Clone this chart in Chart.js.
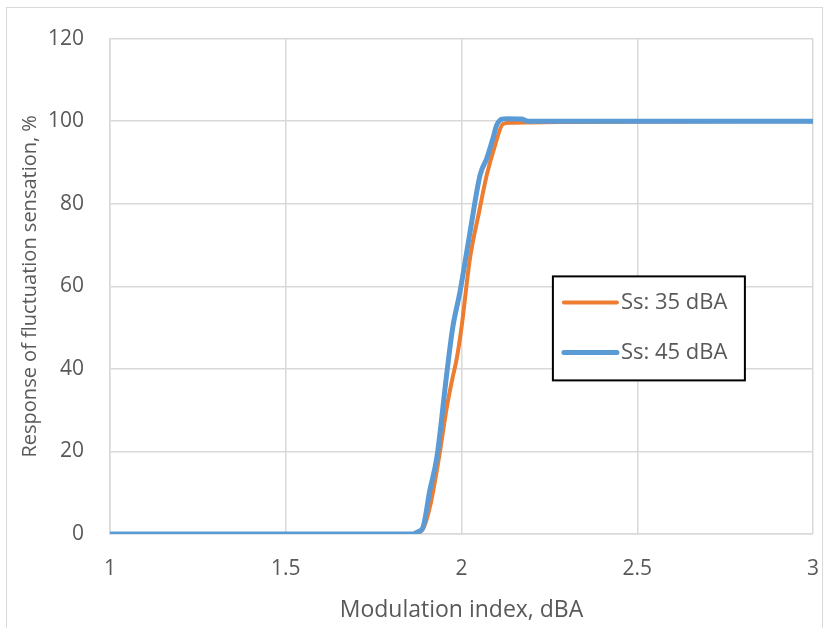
<!DOCTYPE html>
<html>
<head>
<meta charset="utf-8">
<script src="https://cdn.jsdelivr.net/npm/chart.js@4.4.1/dist/chart.umd.min.js"></script>
<style>
  body { margin: 0; background: #fff; }
  #wrap { position: relative; width: 827px; height: 628px; }
  #frame { position: absolute; left: 6px; top: 7px; width: 815px; height: 700px; border: 1px solid #d9d9d9; }
  canvas { position: absolute; left: 0; top: 0; }
</style>
</head>
<body>
<div id="wrap">
  <div id="frame"></div>
  <canvas id="chart" width="827" height="628"></canvas>
</div>
<script>
// Ss: 35 dBA
const x35 = [1, 1.86, 1.89, 1.91, 1.935, 1.958, 1.975, 1.987, 2.0, 2.024, 2.05, 2.072, 2.095, 2.118, 2.14, 2.3, 3];
const y35 = [0, 0, 1.2, 6.5, 18, 30.6, 38, 42.7, 50, 66.7, 78, 87, 94, 99.3, 99.6, 99.8, 100];

// Ss: 45 dBA
const x45 = [1, 1.862, 1.875, 1.89, 1.91, 1.93, 1.958, 1.975, 1.996, 2.024, 2.053, 2.072, 2.09, 2.10, 2.115, 2.13, 2.17, 2.19, 2.2, 2.3, 3];
const y45 = [0, 0, 0.5, 1.5, 10.6, 18.6, 38.8, 50, 58.8, 73, 87, 91, 96, 99, 100.5, 100.6, 100.5, 100, 100, 100, 100];

const seriesLabels = ["Ss: 35 dBA", "Ss: 45 dBA"];
const xTicks = [1, 1.5, 2, 2.5, 3];

const toPoints = (xs, ys) => xs.map((x, i) => ({ x: x, y: ys[i] }));

const FONT = "'Open Sans', 'Noto Sans', sans-serif";
const TEXT = "#595959";
const GRID = "#d9d9d9";

// legend box drawn inside the plot, right of the curves
const boxLegend = {
  id: "boxLegend",
  afterDraw(chart) {
    const ctx = chart.ctx;
    const a = chart.chartArea;
    const left = a.left + (a.right - a.left) * 0.63;
    const top = a.top + (a.bottom - a.top) * 0.48;
    const w = 192, h = 104;
    ctx.save();
    ctx.fillStyle = "#fff";
    ctx.fillRect(left, top, w, h);
    ctx.strokeStyle = "#000";
    ctx.lineWidth = 2;
    ctx.strokeRect(left, top, w, h);
    const items = [chart.data.datasets[1], chart.data.datasets[0]]; // orange then blue
    items.forEach((ds, i) => {
      const y = top + 26 + i * 50;
      ctx.strokeStyle = ds.borderColor;
      ctx.lineWidth = ds.borderWidth;
      ctx.lineCap = "round";
      ctx.beginPath();
      ctx.moveTo(left + 11, y);
      ctx.lineTo(left + 64, y);
      ctx.stroke();
      ctx.fillStyle = TEXT;
      ctx.font = "22px " + FONT;
      ctx.textBaseline = "middle";
      ctx.fillText(ds.label, left + 68, y);
    });
    ctx.restore();
  }
};

new Chart(document.getElementById("chart").getContext("2d"), {
  type: "scatter",
  data: {
    datasets: [
      {
        label: seriesLabels[1],
        data: toPoints(x45, y45),
        showLine: true,
        borderColor: "#5B9BD5",
        backgroundColor: "#5B9BD5",
        borderWidth: 5,
        pointRadius: 0,
        cubicInterpolationMode: "monotone",
        order: 0,
      },
      {
        label: seriesLabels[0],
        data: toPoints(x35, y35),
        showLine: true,
        borderColor: "#ED7D31",
        backgroundColor: "#ED7D31",
        borderWidth: 4,
        pointRadius: 0,
        cubicInterpolationMode: "monotone",
        order: 1,
      },
    ],
  },
  options: {
    responsive: false,
    animation: false,
    layout: { padding: { left: 0, right: 14, top: 36, bottom: 0 } },
    plugins: { legend: { display: false }, tooltip: { enabled: false } },
    scales: {
      x: {
        type: "linear",
        min: 1,
        max: 3,
        afterBuildTicks: (s) => { s.ticks = xTicks.map((v) => ({ value: v })); },
        afterFit: (s) => { s.height = 94; s.paddingRight = 0; s.paddingLeft = 0; },
        grid: { color: GRID, lineWidth: 1.5, drawTicks: false },
        border: { color: GRID, width: 1.5 },
        ticks: { color: TEXT, font: { family: FONT, size: 21 }, padding: 22, maxRotation: 0, callback: (v) => String(v) },
        title: { display: true, text: "Modulation index, dBA", color: TEXT, font: { family: FONT, size: 23 }, padding: { top: 0 } },
      },
      y: {
        min: 0,
        max: 120,
        afterFit: (s) => { s.width = 110; },
        grid: { color: GRID, lineWidth: 1.5, drawTicks: false },
        border: { color: GRID, width: 1.5 },
        ticks: { stepSize: 20, color: TEXT, font: { family: FONT, size: 21 }, padding: 26 },
        title: { display: true, text: "Response of fluctuation sensation, %", color: TEXT, font: { family: FONT, size: 20 }, padding: { top: 18, bottom: 4 } },
      },
    },
  },
  plugins: [boxLegend],
});
</script>
</body>
</html>
